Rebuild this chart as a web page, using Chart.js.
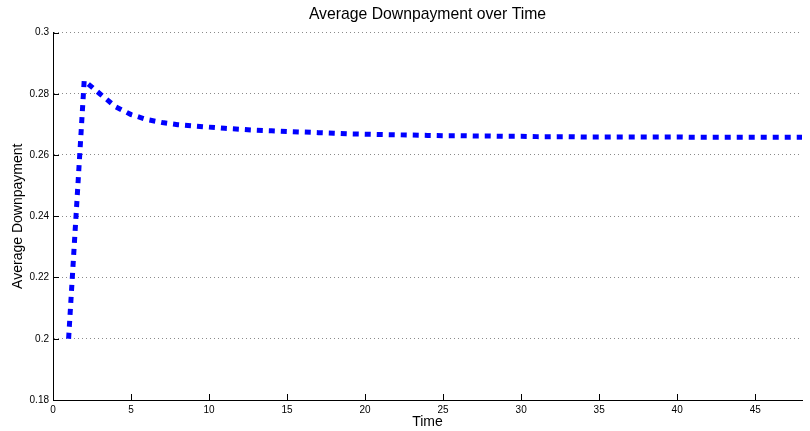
<!DOCTYPE html>
<html>
<head>
<meta charset="utf-8">
<script src="https://cdn.jsdelivr.net/npm/chart.js@4/dist/chart.umd.min.js"></script>
<style>
  html, body { margin: 0; padding: 0; background: #fff; }
  #wrap { width: 810px; height: 431px; }
</style>
</head>
<body>
<div id="wrap"><canvas id="downpaymentChart" width="810" height="431"></canvas></div>
<script>
// values
const timeSteps = [1, 2, 3, 4, 5, 6, 7, 8, 9, 10, 11, 12, 13, 14, 15, 16, 17, 18, 19, 20, 21, 22, 23, 24,
    25, 26, 27, 28, 29, 30, 31, 32, 33, 34, 35, 36, 37, 38, 39, 40, 41, 42, 43, 44, 45, 46, 47, 48];
const avgDownpayment = [0.2000, 0.2843, 0.2800, 0.2758, 0.2732, 0.2716, 0.2706, 0.2699, 0.2695, 0.2691,
    0.2687, 0.2684, 0.2681, 0.2679, 0.2677, 0.2675, 0.2673, 0.2671, 0.2669, 0.2668, 0.2667, 0.2666,
    0.2665, 0.2664, 0.2663, 0.2663, 0.2662, 0.2662, 0.2661, 0.2661, 0.2660, 0.2660, 0.2660, 0.2659,
    0.2659, 0.2659, 0.2659, 0.2659, 0.2659, 0.2659, 0.2658, 0.2658, 0.2658, 0.2658, 0.2658, 0.2658,
    0.2658, 0.2658];
const xTickValues = [0, 5, 10, 15, 20, 25, 30, 35, 40, 45];
const yTickValues = [0.18, 0.2, 0.22, 0.24, 0.26, 0.28, 0.3];

const FONT = '"Liberation Sans", Arial, sans-serif';

// matlab style ticks pointing into the plot
const innerTicks = {
    id: 'innerTicks',
    afterDraw(chart) {
        const ctx = chart.ctx;
        const area = chart.chartArea;
        const xs = chart.scales.x;
        const ys = chart.scales.y;
        ctx.save();
        ctx.strokeStyle = '#000';
        ctx.lineWidth = 1;
        ctx.beginPath();
        xTickValues.forEach(v => {
            const px = Math.round(xs.getPixelForValue(v)) + 0.5;
            ctx.moveTo(px, area.bottom);
            ctx.lineTo(px, area.bottom - 6);
        });
        yTickValues.forEach(v => {
            const py = Math.round(ys.getPixelForValue(v)) + 0.5;
            ctx.moveTo(area.left, py);
            ctx.lineTo(area.left + 6, py);
        });
        ctx.stroke();
        ctx.restore();
    }
};

const ctx = document.getElementById('downpaymentChart').getContext('2d');
new Chart(ctx, {
    type: 'line',
    data: {
        datasets: [{
            label: 'Average Downpayment',
            data: timeSteps.map((t, i) => ({ x: t, y: avgDownpayment[i] })),
            borderColor: '#0000ff',
            borderWidth: 5,
            borderDash: [6, 6],
            borderCapStyle: 'butt',
            pointRadius: 0,
            tension: 0,
            fill: false
        }]
    },
    options: {
        responsive: false,
        animation: false,
        layout: { padding: { top: 0, right: 8, bottom: 0, left: 0 } },
        plugins: {
            legend: { display: false },
            tooltip: { enabled: false },
            title: {
                display: true,
                text: 'Average Downpayment over Time',
                fullSize: false,
                color: '#000',
                font: { family: FONT, size: 15.75, weight: 'normal' },
                padding: { top: 5, bottom: 8.6 }
            }
        },
        scales: {
            x: {
                type: 'linear',
                min: 0,
                max: 48,
                afterBuildTicks: scale => { scale.ticks = xTickValues.map(v => ({ value: v })); },
                afterFit: scale => { scale.height = 31; },
                grid: { color: 'rgba(0,0,0,0)', drawTicks: false },
                border: { display: true, color: '#000', width: 1 },
                ticks: {
                    color: '#000',
                    padding: 4,
                    maxRotation: 0,
                    font: { family: FONT, size: 10 }
                },
                title: {
                    display: true,
                    text: 'Time',
                    color: '#000',
                    font: { family: FONT, size: 14 },
                    padding: { top: 0, bottom: 0.4 }
                }
            },
            y: {
                min: 0.18,
                max: 0.3,
                afterBuildTicks: scale => { scale.ticks = yTickValues.map(v => ({ value: v })); },
                afterFit: scale => { scale.width = 53; },
                grid: { color: '#8a8a8a', lineWidth: 1, drawTicks: false },
                border: { display: true, color: '#000', width: 1, dash: [1, 3] },
                ticks: {
                    color: '#000',
                    padding: 4,
                    font: { family: FONT, size: 10 },
                    callback: v => parseFloat(v.toFixed(2)).toString()
                },
                title: {
                    display: true,
                    text: 'Average Downpayment',
                    color: '#000',
                    font: { family: FONT, size: 14 },
                    padding: { top: 9.7, bottom: 0 }
                }
            }
        }
    },
    plugins: [innerTicks]
});
</script>
</body>
</html>
